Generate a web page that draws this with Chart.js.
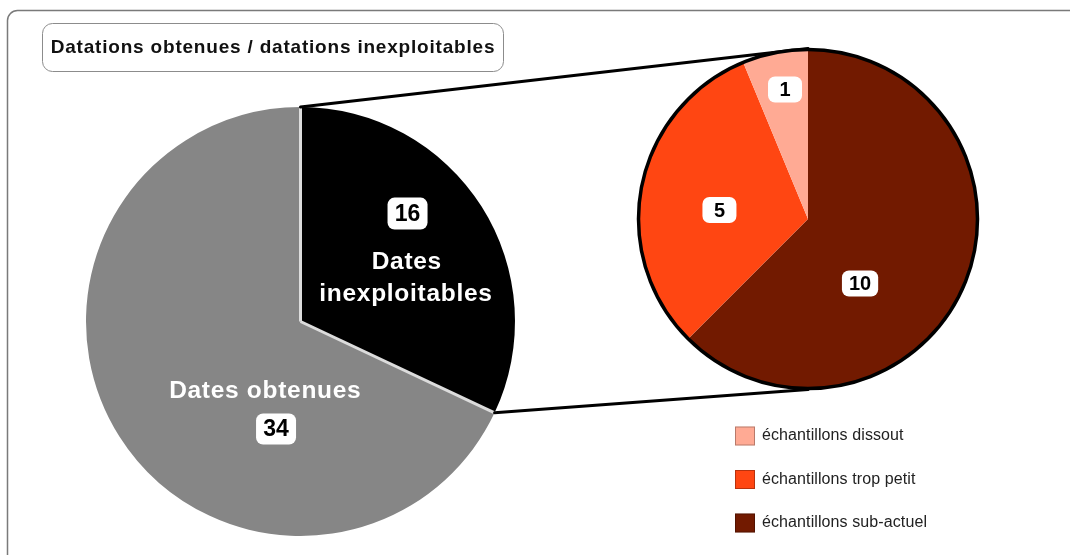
<!DOCTYPE html>
<html><head><meta charset="utf-8">
<script src="https://cdn.jsdelivr.net/npm/chart.js@4.4.1/dist/chart.umd.min.js"></script>
<style>
html,body{margin:0;padding:0;background:#fff;}
#wrap{position:relative;width:1070px;height:555px;overflow:hidden;}
#wrap canvas{position:absolute;left:0;top:0;}
</style></head><body>
<div id="wrap">
<canvas id="main" width="1070" height="555"></canvas>
<canvas id="detail" width="1070" height="555"></canvas>
</div>
<script>
const chartTitle = 'Datations obtenues / datations inexploitables';
const mainLabels = ['Dates inexploitables', 'Dates obtenues'];
const mainValues = [16, 34];
const mainColors = ['#000000', '#868686'];
const detailLabels = ['échantillons sub-actuel', 'échantillons trop petit', 'échantillons dissout'];
const detailValues = [10, 5, 1];
const detailColors = ['#721a00', '#ff4612', '#ffaa94'];

const FONT = '"Liberation Sans", Arial, Helvetica, sans-serif';

function rr(ctx,x,y,w,h,r){
  ctx.beginPath();ctx.moveTo(x+r,y);ctx.lineTo(x+w-r,y);ctx.arcTo(x+w,y,x+w,y+r,r);
  ctx.lineTo(x+w,y+h-r);ctx.arcTo(x+w,y+h,x+w-r,y+h,r);ctx.lineTo(x+r,y+h);
  ctx.arcTo(x,y+h,x,y+h-r,r);ctx.lineTo(x,y+r);ctx.arcTo(x,y,x+r,y,r);ctx.closePath();
}
function boxedNumber(ctx, text, cx, cy, size, minW, h){
  ctx.save();
  ctx.font = 'bold '+size+'px '+FONT;
  ctx.letterSpacing = '0px';
  const w = Math.max(ctx.measureText(text).width + 14, minW);
  rr(ctx, cx-w/2, cy-h/2, w, h, 7);
  ctx.fillStyle='#fff'; ctx.fill();
  ctx.fillStyle='#000'; ctx.textAlign='center'; ctx.textBaseline='middle';
  ctx.fillText(text, cx, cy+1);
  ctx.restore();
}
function whiteText(ctx, text, cx, cy, size){
  ctx.save();
  ctx.font = 'bold '+size+'px '+FONT;
  ctx.letterSpacing = '0.7px';
  ctx.fillStyle='#fff'; ctx.textAlign='center'; ctx.textBaseline='middle';
  ctx.fillText(text, cx+0.35, cy);
  ctx.restore();
}

const framePlugin = {
  id:'frame',
  beforeDraw(chart){
    const ctx = chart.ctx;
    ctx.save();
    ctx.strokeStyle='#7a7a7a'; ctx.lineWidth=1.5;
    rr(ctx, 7.5, 10.5, 1200, 700, 10); ctx.stroke();
    ctx.strokeStyle='#8c8c8c'; ctx.lineWidth=1;
    rr(ctx, 42.5, 23.5, 461, 48, 10); ctx.stroke();
    ctx.font = 'bold 19px '+FONT;
    ctx.letterSpacing = '0.8px';
    ctx.fillStyle='#111'; ctx.textAlign='center'; ctx.textBaseline='middle';
    ctx.fillText(chartTitle, 273, 48);
    ctx.restore();
  }
};

// label placement, as fractions of the pie radius from its centre
const mainLabelPlugin = {
  id:'mainLabels',
  afterDatasetsDraw(chart){
    const ctx = chart.ctx;
    const arcs = chart.getDatasetMeta(0).data;
    const a0 = arcs[0], R = a0.outerRadius, cx = a0.x, cy = a0.y;
    // light separators along the radial edges of the slices
    ctx.save();
    ctx.strokeStyle='#dcdcdc'; ctx.lineWidth=3; ctx.lineJoin='miter';
    arcs.forEach(a=>{
      ctx.beginPath(); ctx.moveTo(a.x, a.y);
      ctx.lineTo(a.x + (a.outerRadius-0.5)*Math.cos(a.startAngle), a.y + (a.outerRadius-0.5)*Math.sin(a.startAngle));
      ctx.stroke();
    });
    ctx.restore();
    const names = mainLabels.map(s => s.split(' '));
    boxedNumber(ctx, String(mainValues[0]), cx + 0.499*R, cy - 0.503*R, 23, 40, 32);
    whiteText(ctx, names[0][0], cx + 0.494*R, cy - 0.275*R, 24.5);
    whiteText(ctx, names[0].slice(1).join(' '), cx + 0.49*R, cy - 0.126*R, 24.5);
    whiteText(ctx, mainLabels[1], cx - 0.166*R, cy + 0.326*R, 24.5);
    boxedNumber(ctx, String(mainValues[1]), cx - 0.114*R, cy + 0.501*R, 23, 40, 31);
  }
};

const mainChart = new Chart(document.getElementById('main'), {
  type:'pie',
  data:{labels:mainLabels, datasets:[{data:mainValues, backgroundColor:mainColors, borderWidth:0}]},
  options:{responsive:false, animation:false, events:[],
    layout:{padding:{left:86,right:555,top:107,bottom:19}},
    plugins:{legend:{display:false}, tooltip:{enabled:false}}},
  plugins:[framePlugin, mainLabelPlugin]
});

const detailSpots = [[0.308,0.382],[-0.524,-0.053],[-0.136,-0.766]];

const detailPlugin = {
  id:'detailDeco',
  beforeDatasetsDraw(chart){
    const ctx = chart.ctx;
    const m = mainChart.getDatasetMeta(0).data[0];
    const d = chart.getDatasetMeta(0).data[0];
    const R = m.outerRadius;
    const p1 = [m.x + R*Math.cos(m.startAngle), m.y + R*Math.sin(m.startAngle)];
    const p2 = [m.x + R*Math.cos(m.endAngle), m.y + R*Math.sin(m.endAngle)];
    ctx.save();
    ctx.strokeStyle='#000'; ctx.lineWidth=3; ctx.lineCap='round';
    ctx.beginPath(); ctx.moveTo(p1[0],p1[1]); ctx.lineTo(d.x, d.y - d.outerRadius - 1.5); ctx.stroke();
    ctx.beginPath(); ctx.moveTo(p2[0],p2[1]); ctx.lineTo(d.x, d.y + d.outerRadius + 1.5); ctx.stroke();
    ctx.restore();
  },
  afterDatasetsDraw(chart){
    const ctx = chart.ctx;
    const arcs = chart.getDatasetMeta(0).data;
    const a = arcs[0];
    ctx.save();
    ctx.strokeStyle='#000'; ctx.lineWidth=3.5;
    ctx.beginPath(); ctx.arc(a.x, a.y, a.outerRadius+0.5, 0, Math.PI*2); ctx.stroke();
    ctx.restore();
    detailValues.forEach((v,i)=>{
      const s = detailSpots[i];
      boxedNumber(ctx, String(v), a.x + s[0]*a.outerRadius, a.y + s[1]*a.outerRadius, 20, 34, 26);
    });
    ctx.save();
    ctx.font = '16px '+FONT;
    ctx.letterSpacing = '0.1px';
    ctx.textBaseline='middle'; ctx.textAlign='left';
    const n = detailLabels.length;
    for (let k=0;k<n;k++){
      const i = n-1-k;
      const y = 436 + k*43.5;
      ctx.fillStyle = detailColors[i];
      ctx.fillRect(735, y-9.5, 20, 19);
      ctx.strokeStyle='rgba(0,0,0,0.28)'; ctx.lineWidth=1;
      ctx.strokeRect(735.5, y-9, 19, 18);
      ctx.fillStyle='#222';
      ctx.fillText(detailLabels[i], 762, y);
    }
    ctx.restore();
  }
};

const detailChart = new Chart(document.getElementById('detail'), {
  type:'pie',
  data:{labels:detailLabels, datasets:[{data:detailValues, backgroundColor:detailColors, borderWidth:0}]},
  options:{responsive:false, animation:false, events:[],
    layout:{padding:{left:639,right:93,top:50,bottom:167}},
    plugins:{legend:{display:false}, tooltip:{enabled:false}}},
  plugins:[detailPlugin]
});
</script>
</body></html>
